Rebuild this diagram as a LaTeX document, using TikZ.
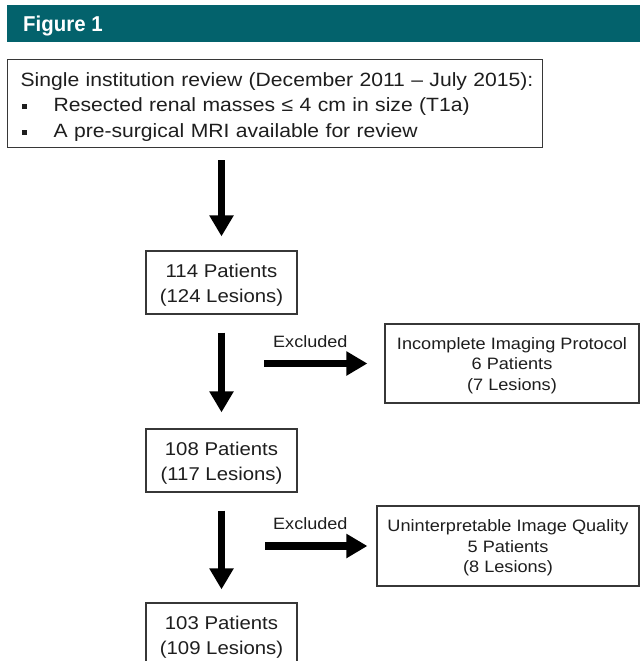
\documentclass[tikz,border=0pt]{standalone}
\usepackage{fontspec}
\setmainfont{Liberation Sans}[FakeStretch=1.1]
\newfontfamily\headfont{Liberation Sans}[FakeStretch=0.95]
\usetikzlibrary{arrows.meta}
\definecolor{headteal}{RGB}{3,98,108}
\definecolor{boxc}{RGB}{55,55,55}
\definecolor{txtc}{RGB}{30,30,30}
\tikzset{
  box/.style={draw=boxc, line width=1.2pt, inner sep=0pt, align=center, text=txtc},
  flow/.style={box, minimum width=151pt, minimum height=63pt, font=\fontsize{18.5}{24.5}\selectfont},
  excl/.style={box, minimum height=79pt, font=\fontsize{16.5}{20.5}\selectfont},
  bigarrow/.style={line width=7.5pt, draw=black, -{Triangle[width=23pt,length=21pt]}},
  exlab/.style={anchor=base west, inner sep=0pt, text=txtc, font=\fontsize{16.4}{20}\selectfont},
}
\newcommand{\bul}{\makebox[33pt][l]{\hspace{1pt}\rule[2.5pt]{5pt}{5pt}}}
\newcommand{\tstrut}[1]{\rule{0pt}{#1}}
\begin{document}
\begin{tikzpicture}[x=1pt,y=-1pt]
\clip (0,0) rectangle (640,661);
\fill[white] (0,0) rectangle (640,661);
% header
\fill[headteal] (7,5) rectangle (640,42);
\node[anchor=base west, inner sep=0pt, text=white, font=\headfont\bfseries\fontsize{21.5}{24}\selectfont] (title) at (23,32) {Figure 1};
% criteria box
\node[box, anchor=north west, minimum width=535pt, minimum height=88pt, text width=535pt, inner xsep=0pt, inner ysep=0pt, align=left, font=\fontsize{19.2}{25.5}\selectfont] (crit) at (7,59)
 {\hspace*{13pt}\tstrut{20pt}Single institution review (December 2011 -- July 2015):\\
  \hspace*{13pt}\bul Resected renal masses ≤ 4 cm in size (T1a)\\
  \hspace*{13pt}\bul A pre-surgical MRI available for review};
% flow boxes
\node[flow] (p114) at (221.5,282.5) {\tstrut{19pt}114 Patients\\(124 Lesions)};
\node[flow] (p108) at (221.5,460.5) {\tstrut{19pt}108 Patients\\(117 Lesions)};
\node[flow] (p103) at (221.5,634.5) {\tstrut{19pt}103 Patients\\(109 Lesions)};
% exclusion boxes
\node[excl, minimum width=254pt] (ex1) at (512,363.5) {\tstrut{16pt}Incomplete Imaging Protocol\\6 Patients\\(7 Lesions)};
\node[excl, minimum width=262pt, minimum height=80pt] (ex2) at (508,546) {\tstrut{16pt}Uninterpretable Image Quality\\5 Patients\\(8 Lesions)};
% vertical arrows
\draw[bigarrow, shorten <=12pt, shorten >=14pt] (crit.south -| p114.north) -- (p114.north);
\draw[bigarrow, shorten <=18pt, shorten >=16pt] (p114.south) -- (p108.north);
\draw[bigarrow, shorten <=18pt, shorten >=13pt] (p108.south) -- (p103.north);
% horizontal arrows
\coordinate (s1) at (264,363.5);
\coordinate (s2) at (265,546);
\draw[bigarrow, shorten >=17pt] (s1) -- (s1 -| ex1.west);
\draw[bigarrow, shorten >=9pt] (s2) -- (s2 -| ex2.west);
\node[exlab] (lab1) at (273,347) {Excluded};
\node[exlab] (lab2) at (273,529) {Excluded};
\end{tikzpicture}
\end{document}
